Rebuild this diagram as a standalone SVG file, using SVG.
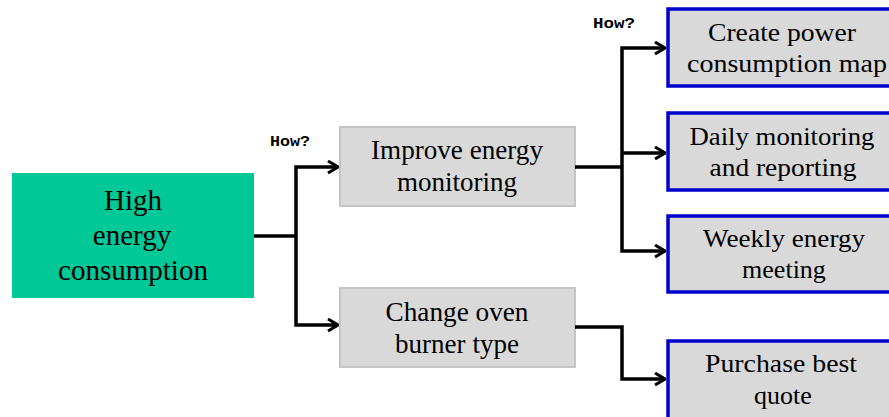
<svg xmlns="http://www.w3.org/2000/svg" width="889" height="417" viewBox="0 0 889 417">
<defs>
<marker id="arr" viewBox="0 0 12 14" refX="11" refY="7" markerWidth="12" markerHeight="14" markerUnits="userSpaceOnUse" orient="auto">
<path d="M1,1 L11,7 L1,13" fill="none" stroke="#000" stroke-width="3"/>
</marker>
<style>
.t{font-family:"Liberation Serif","Times New Roman",serif;fill:#000;text-anchor:middle}
.g{fill:#d9d9d9;stroke:#c4c4c4;stroke-width:2}
.b{fill:#d9d9d9;stroke:#0000cc;stroke-width:3.5}
.c{fill:none;stroke:#000;stroke-width:3.5}
.h{font-family:"Liberation Mono","Courier New",monospace;font-weight:bold;font-size:14px;fill:#000}
</style>
</defs>
<rect width="889" height="417" fill="#fff"/>
<g id="root"><rect x="12" y="173" width="242" height="125" fill="#00c896"/>
<text class="t" font-size="29" x="133" y="210">High</text>
<text class="t" font-size="29" x="132" y="245">energy</text>
<text class="t" font-size="29" x="133" y="280">consumption</text></g>
<g id="improve"><rect class="g" x="340" y="127" width="235" height="79"/>
<text class="t" font-size="27" x="457" y="159" textLength="172" lengthAdjust="spacingAndGlyphs">Improve energy</text>
<text class="t" font-size="27" x="457" y="191" textLength="120" lengthAdjust="spacingAndGlyphs">monitoring</text></g>
<g id="change"><rect class="g" x="340" y="288" width="235" height="79"/>
<text class="t" font-size="27" x="457" y="321" textLength="143" lengthAdjust="spacingAndGlyphs">Change oven</text>
<text class="t" font-size="27" x="457" y="353" textLength="124" lengthAdjust="spacingAndGlyphs">burner type</text></g>
<g id="map"><rect class="b" x="668" y="9" width="235" height="77"/>
<text class="t" font-size="26" x="782" y="41" textLength="148" lengthAdjust="spacingAndGlyphs">Create power</text>
<text class="t" font-size="26" x="787" y="72" textLength="200" lengthAdjust="spacingAndGlyphs">consumption map</text></g>
<g id="daily"><rect class="b" x="668" y="113" width="235" height="77"/>
<text class="t" font-size="26" x="782" y="145" textLength="185" lengthAdjust="spacingAndGlyphs">Daily monitoring</text>
<text class="t" font-size="26" x="783" y="176" textLength="147" lengthAdjust="spacingAndGlyphs">and reporting</text></g>
<g id="weekly"><rect class="b" x="668" y="216" width="235" height="76"/>
<text class="t" font-size="26" x="784" y="247" textLength="162" lengthAdjust="spacingAndGlyphs">Weekly energy</text>
<text class="t" font-size="26" x="784" y="278">meeting</text></g>
<g id="purchase"><rect class="b" x="668" y="341" width="235" height="80"/>
<text class="t" font-size="26" x="781" y="372" textLength="152" lengthAdjust="spacingAndGlyphs">Purchase best</text>
<text class="t" font-size="26" x="783" y="404">quote</text></g>
<g id="connectors">
<path class="c" d="M254,236 H296"/>
<path class="c" d="M296,236 V167 H338" marker-end="url(#arr)"/>
<path class="c" d="M296,236 V325 H338" marker-end="url(#arr)"/>
<path class="c" d="M575,167 H622"/>
<path class="c" d="M622,167 V48 H665" marker-end="url(#arr)"/>
<path class="c" d="M622,153 H665" marker-end="url(#arr)"/>
<path class="c" d="M622,167 V251 H665" marker-end="url(#arr)"/>
<path class="c" d="M575,327 H622 V379 H665" marker-end="url(#arr)"/>
</g>
<g id="labels">
<text class="h" x="270" y="146" textLength="40" lengthAdjust="spacingAndGlyphs">How?</text>
<text class="h" x="593" y="28" textLength="42" lengthAdjust="spacingAndGlyphs">How?</text>
</g>
</svg>
